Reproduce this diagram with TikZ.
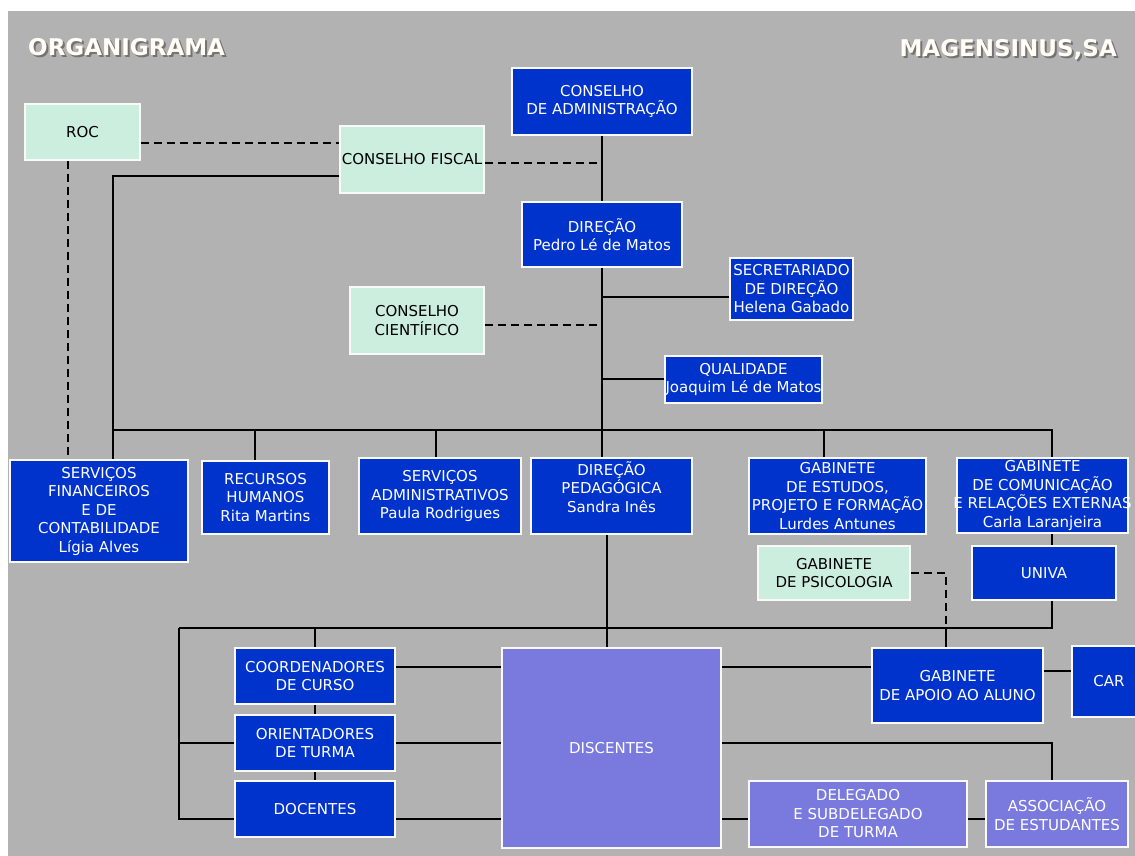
\documentclass[tikz,border=0pt]{standalone}
\usepackage{fontspec}
\setmainfont{DejaVu Sans}
\usetikzlibrary{positioning}
\definecolor{orgbg}{RGB}{178,178,178}
\definecolor{orgblue}{RGB}{0,51,204}
\definecolor{orggreen}{RGB}{204,238,222}
\definecolor{orglilac}{RGB}{122,122,222}

\begin{document}
\begin{tikzpicture}[x=1pt, y=-1pt,
  box/.style={draw=white!92!orgbg, line width=1.5pt, align=center, inner sep=0pt,
              font=\fontsize{15}{18.5}\selectfont},
  sz/.style 2 args={minimum width=#1pt, minimum height=#2pt},
  bluebox/.style={box, fill=orgblue, text=white},
  greenbox/.style={box, fill=orggreen, text=black},
  lilacbox/.style={box, fill=orglilac, text=white},
  link/.style={line width=2pt, black},
  dlink/.style={link, dash pattern=on 8pt off 5pt},
  title/.style={font=\fontsize{23}{23}\selectfont\bfseries, text=white!96!yellow, inner sep=0pt}]
 \useasboundingbox (0,0) rectangle (1135,856);
 \fill[orgbg] (8,11) rectangle (1135,856);
 \node[title, text=black!55, anchor=west] (orgshadow) at (30,49) {ORGANIGRAMA};
 \node[title, anchor=west] (orgtitle) at (28,47) {ORGANIGRAMA};
 \node[title, text=black!55, anchor=east] (magshadow) at (1119,52) {MAGENSINUS,SA};
 \node[title, anchor=east] (magtitle) at (1117,50) {MAGENSINUS,SA};

 \node[greenbox, sz={115}{56}] (roc) at (82.5,132) {ROC};
 \node[greenbox, sz={144}{67}] (fiscal) at (412,159.5) {\makebox[136pt]{CONSELHO FISCAL}};
 \node[bluebox, sz={180}{67}] (admin) at (602,101.5) {CONSELHO\\DE ADMINISTRAÇÃO};
 \node[bluebox, sz={160}{65}] (dir) at (602,234.5) {DIREÇÃO\\Pedro Lé de Matos};
 \node[bluebox, sz={123}{62}] (secr) at (791.5,289) {SECRETARIADO\\DE DIREÇÃO\\Helena Gabado};
 \node[greenbox, sz={134}{67}] (cient) at (417,320.5) {CONSELHO\\CIENTÍFICO};
 \node[bluebox, sz={157}{47}] (qual) at (743.5,379.5) {QUALIDADE\\\makebox[150pt]{Joaquim Lé de Matos}};

 \node[bluebox, sz={178}{102}] (sf) at (99,511) {SERVIÇOS\\FINANCEIROS\\E DE\\CONTABILIDADE\\Lígia Alves};
 \node[bluebox, sz={127}{73}] (rh) at (265.5,497.5) {RECURSOS\\HUMANOS\\Rita Martins};
 \node[bluebox, sz={162}{76}] (sadm) at (440,496) {SERVIÇOS\\ADMINISTRATIVOS\\Paula Rodrigues};
 \node[bluebox, sz={161}{76}] (dped) at (611.5,496) {DIREÇÃO\\PEDAGÓGICA\\Sandra Inês\\\mbox{}};
 \node[bluebox, sz={177}{76}] (gepf) at (837.5,496) {GABINETE\\DE ESTUDOS,\\PROJETO E FORMAÇÃO\\Lurdes Antunes};
 \node[bluebox, sz={171}{75}] (gcre) at (1042.5,495.5) {GABINETE\\DE COMUNICAÇÃO\\\makebox[165pt]{E RELAÇÕES EXTERNAS}\\Carla Laranjeira};
 \node[greenbox, sz={152}{54}] (gpsi) at (834,573) {GABINETE\\DE PSICOLOGIA};
 \node[bluebox, sz={144}{54}] (univa) at (1044,573) {UNIVA};

 \node[bluebox, sz={160}{56}] (cc) at (315,676) {COORDENADORES\\DE CURSO};
 \node[bluebox, sz={160}{56}] (ot) at (315,743) {ORIENTADORES\\DE TURMA};
 \node[bluebox, sz={160}{56}] (doc) at (315,809) {DOCENTES};
 \node[lilacbox, sz={219}{200}] (disc) at (611.5,748) {DISCENTES};
 \node[bluebox, sz={171}{75}] (gaa) at (957.5,685.5) {GABINETE\\DE APOIO AO ALUNO};
 \node[bluebox, sz={74}{71}] (car) at (1109,681.5) {CAR};
 \node[lilacbox, sz={218}{66}] (del) at (858,814) {DELEGADO\\E SUBDELEGADO\\DE TURMA};
 \node[lilacbox, sz={142}{66}] (ae) at (1057,814) {ASSOCIAÇÃO\\DE ESTUDANTES};

 \coordinate (b1) at (113,430);
 \coordinate (b2) at (255,430);
 \coordinate (b3) at (436,430);
 \coordinate (b4) at (602,430);
 \coordinate (b5) at (824,430);
 \coordinate (b6) at (1052,430);
 \coordinate (l0) at (179,628);
 \coordinate (l2) at (607,628);
 \coordinate (l3) at (946,628);
 \coordinate (r1) at (0,667);
 \coordinate (r2) at (0,743);
 \coordinate (r3) at (0,819);

 \draw[link] (admin) -- (dir);
 \draw[dlink] ([yshift=-3.5pt]fiscal.east) -- ([yshift=-3.5pt]fiscal.east -| admin.south);
 \draw[dlink] ([yshift=-11pt]roc.east) -- ([yshift=-11pt]roc.east -| fiscal.west);
 \draw[dlink] ([xshift=-14.5pt]roc.south) -- ([xshift=-14.5pt]roc.south |- sf.north);
 \draw[link] ([yshift=-16.5pt]fiscal.west) -| (b1 |- sf.north);
 \draw[link] (b1) -- (b6) -- (b6 |- gcre.north);
 \draw[link] (dir) -- (b4);
 \draw[link] ([yshift=-8pt]secr.west) -- ([yshift=-8pt]secr.west -| dir.south);
 \draw[link] ([yshift=0.5pt]qual.west) -- ([yshift=0.5pt]qual.west -| dir.south);
 \draw[dlink] ([yshift=-4.5pt]cient.east) -- ([yshift=-4.5pt]cient.east -| dir.south);
 \foreach \t/\n in {b2/rh, b3/sadm, b4/dped, b5/gepf}
   \draw[link] (\t) -- (\t |- \n.north);

 \draw[link] (gcre.south -| b6) -- (univa.north -| b6);
 \draw[link] (univa.south -| b6) |- (l3);
 \draw[dlink] (gpsi.east) -| (l3);
 \draw[link] (l0) -- (l3) -- (gaa.north -| l3);
 \draw[link] (l2 |- dped.south) -- (l2 |- disc.north);
 \draw[link] (cc.north |- l0) -- (cc.north);
 \draw[link] (cc) -- (ot) -- (doc);
 \draw[link] (l0) |- (doc.west |- r3);
 \draw[link] (l0 |- r2) -- (ot.west);
 \draw[link] (cc.east |- r1) -- (disc.west |- r1);
 \draw[link] (ot.east) -- (disc.west |- r2);
 \draw[link] (doc.east |- r3) -- (disc.west |- r3);
 \draw[link] (disc.east |- r1) -- (gaa.west |- r1);
 \draw[link] ([yshift=14.5pt]gaa.east) -- ([yshift=14.5pt]gaa.east -| car.west);
 \draw[link] (disc.east |- r2) -| (ae.north -| b6);
 \draw[link] (disc.east |- r3) -- (del.west |- r3);
 \draw[link] (del.east |- r3) -- (ae.west |- r3);
\end{tikzpicture}
\end{document}
